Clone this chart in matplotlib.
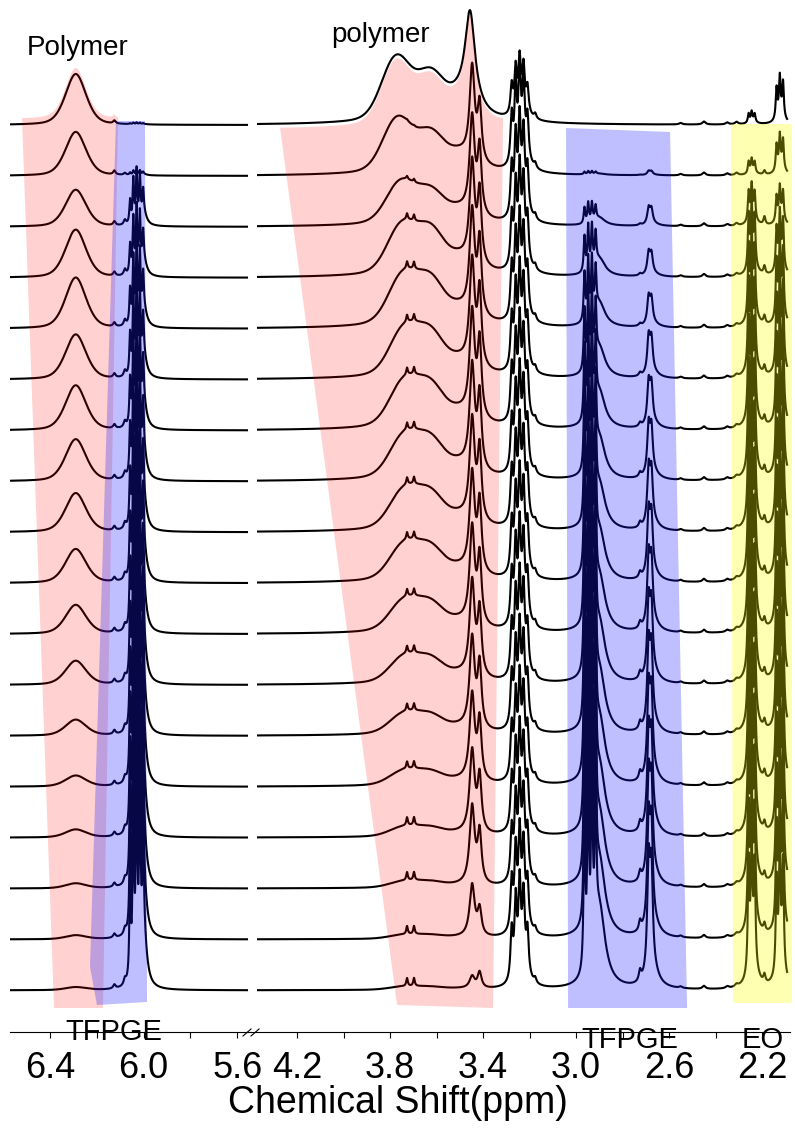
import matplotlib.pyplot as plt
from matplotlib.lines import Line2D
from matplotlib.patches import Polygon
import numpy as np

plt.rcParams["font.family"] = ["Liberation Sans", "DejaVu Sans"]

FIG_W, FIG_H = 795, 1128
AXIS_ROW = 1032      # pixel row of the x axis line
BASE_TOP = 125       # pixel row of the uppermost baseline
BASE_STEP = 50.9     # pixel gap between stacked spectra
N_TRACES = 18

# ---- peak heights in px above each baseline, top spectrum first ----
# left panel
polymer_629 = [51, 44, 37, 48, 51, 45, 45, 42, 39, 34, 29, 24, 16, 11, 8, 5, 4, 3]
bump_612 = [3, 4, 4, 4, 4, 4, 4, 4, 4, 4, 4, 4, 4, 4, 4, 4, 4, 4]
bump_608 = [0, 2, 5, 6, 6, 6, 6, 6, 6, 6, 6, 6, 6, 6, 6, 6, 6, 6]
tfpge_603 = [2, 6, 60, 75, 90, 105, 118, 130, 142, 155, 168, 180, 192, 205, 218, 230, 242, 255]

# right panel
hump_pos = [3.775, 3.77, 3.755, 3.75, 3.745, 3.74, 3.74, 3.74, 3.74,
            3.74, 3.74, 3.74, 3.74, 3.74, 3.74, 3.74, 3.74, 3.74]
hump_370 = [70, 60, 48, 58, 60, 58, 56, 52, 48, 44, 38, 32, 25, 18, 12, 8, 5, 4]
hump_shoulder = [0.5, 0.5, 0.55, 0.65, 0.65, 0.65, 0.65, 0.65, 0.65,
                 0.65, 0.65, 0.65, 0.65, 0.65, 0.65, 0.65, 0.65, 0.65]
doublet_371 = [0, 1, 3, 6, 7, 7, 7, 7, 7, 7, 7, 7, 7, 7, 8, 8, 8, 8]
peak_344 = [94, 92, 96, 100, 102, 104, 104, 102, 100, 98, 96, 94, 90, 86, 82, 78, 52, 12]
peak_341 = [0, 55, 65, 70, 72, 74, 74, 72, 70, 68, 66, 64, 62, 58, 54, 50, 26, 16]
mult_325 = [70, 115, 118, 120, 120, 120, 120, 120, 120, 120, 120, 120, 120, 120, 120, 120, 120, 120]
tfpge_294 = [0, 4, 25, 55, 75, 95, 115, 130, 145, 160, 175, 190, 200, 210, 220, 230, 240, 250]
tfpge_268 = [0, 5, 21, 28, 35, 48, 54, 63, 72, 80, 88, 96, 104, 112, 120, 128, 136, 145]
eo_224 = [14, 18, 45, 80, 105, 125, 140, 150, 160, 165, 170, 172, 175, 175, 175, 175, 170, 165]
eo_219 = [0, 4, 8, 8, 8, 8, 8, 8, 8, 8, 8, 8, 8, 8, 8, 8, 8, 8]
eo_212 = [52, 44, 43, 70, 95, 115, 130, 140, 150, 155, 160, 162, 165, 165, 165, 165, 160, 155]
wiggle_ppm = [2.55, 2.45, 2.35, 2.31]
wiggle_h = [1.5, 3, 2, 2.5]

# axis ranges and ticks
left_range = (6.571, 5.541)
left_ticks = [6.4, 6.2, 6.0, 5.8, 5.6]
left_labels = ["6.4", "", "6.0", "", "5.6"]
right_range = (4.398, 2.08)
right_ticks = [4.2, 4.0, 3.8, 3.6, 3.4, 3.2, 3.0, 2.8, 2.6, 2.4, 2.2]
right_labels = ["4.2", "", "3.8", "", "3.4", "", "3.0", "", "2.6", "", "2.2"]


def lor(x, c, w):
    return 1.0 / (1.0 + ((x - c) / w) ** 2)


def gau(x, c, s):
    return np.exp(-0.5 * ((x - c) / s) ** 2)


def multiplet(x, centers, weights, w, base_c, base_w, base_frac):
    def shape(t):
        y = base_frac * lor(t, base_c, base_w)
        for c, wt in zip(centers, weights):
            y = y + wt * lor(t, c, w)
        return y
    grid = np.linspace(min(centers) - 0.05, max(centers) + 0.05, 6000)
    return shape(x) / shape(grid).max()


def left_trace(x, i):
    y = polymer_629[i] * (0.6 * gau(x, 6.29, 0.045) + 0.4 * lor(x, 6.29, 0.05))
    y += bump_612[i] * lor(x, 6.125, 0.006)
    y += bump_608[i] * lor(x, 6.08, 0.006)
    y += tfpge_603[i] * multiplet(x, [6.058, 6.044, 6.030, 6.016, 6.002],
                                  [0.45, 0.85, 1.0, 0.85, 0.45], 0.0035, 6.0, 0.015, 0.25)
    return y


def hump(x, i):
    def shape(t):
        return (0.75 * gau(t, hump_pos[i], 0.06) + hump_shoulder[i] * gau(t, 3.625, 0.055)
                + 0.2 * lor(t, 3.72, 0.15) + 0.3 * lor(t, 3.50, 0.08))
    grid = np.linspace(3.5, 3.9, 2000)
    return hump_370[i] * shape(x) / shape(grid).max()


def right_trace(x, i):
    y = hump(x, i)
    y += doublet_371[i] * (lor(x, 3.727, 0.004) + lor(x, 3.697, 0.004))
    if i == 0:
        y += peak_344[i] * lor(x, 3.456, 0.026)
    else:
        y += peak_344[i] * lor(x, 3.447, 0.013)
    y += peak_341[i] * lor(x, 3.415, 0.01)
    y += mult_325[i] * multiplet(x, [3.277, 3.26, 3.243, 3.226, 3.209],
                                 [0.6, 0.9, 1.0, 0.8, 0.5], 0.006, 3.23, 0.025, 0.3)
    y += 5 * lor(x, 3.176, 0.006)
    y += tfpge_294[i] * multiplet(x, [2.964, 2.948, 2.932, 2.916], [0.8, 1.0, 0.95, 0.7],
                                  0.004, 2.90, 0.03, 0.4)
    y += 0.07 * tfpge_268[i] * lor(x, 2.725, 0.006)
    y += tfpge_268[i] * multiplet(x, [2.688, 2.676], [1.0, 0.9], 0.007, 2.67, 0.03, 0.15)
    y += eo_224[i] * multiplet(x, [2.258, 2.245, 2.232], [0.9, 1.0, 0.8], 0.004, 2.24, 0.02, 0.25)
    y += eo_219[i] * lor(x, 2.19, 0.005)
    y += eo_212[i] * multiplet(x, [2.138, 2.124, 2.11], [0.8, 1.0, 0.9], 0.004, 2.12, 0.02, 0.25)
    for c, h in zip(wiggle_ppm, wiggle_h):
        y += h * lor(x, c, 0.008)
    return y


def lpx(px):
    return 6.4 - (px - 50) / 234


def rpx(px):
    return 4.2 - (px - 297) / 232.5


def row(py):
    return AXIS_ROW - py


def baseline(i):
    return row(BASE_TOP + BASE_STEP * i)


fig = plt.figure(figsize=(FIG_W / 100, FIG_H / 100), dpi=100)
y0 = (FIG_H - AXIS_ROW) / FIG_H
hgt = AXIS_ROW / FIG_H
ax_l = fig.add_axes([10 / FIG_W, y0, 241 / FIG_W, hgt])
ax_r = fig.add_axes([251 / FIG_W, y0, 539 / FIG_W, hgt])

x_left = np.linspace(lpx(10), lpx(247), 8000)
x_right = np.linspace(rpx(258), rpx(787), 16000)

for i in range(N_TRACES):
    b = baseline(i)
    ax_l.plot(x_left, b + left_trace(x_left, i), color="black", lw=1.5, zorder=2)
    ax_r.plot(x_right, b + right_trace(x_right, i), color="black", lw=1.5, zorder=2)

# shaded regions drawn over the lines
pink = (1, 0, 0, 0.18)
blue = (0.1, 0.1, 1, 0.28)
yellow = (1, 1, 0, 0.3)

xs = np.linspace(lpx(22), lpx(118), 200)
top = baseline(0) + left_trace(xs, 0) + 6
verts = list(zip(xs, top)) + [(lpx(103), row(1008)), (lpx(54), row(1008))]
ax_l.add_patch(Polygon(verts, closed=True, facecolor=pink, edgecolor="none", zorder=3))

verts = [(lpx(116), row(121)), (lpx(145), row(121)), (lpx(147), row(1002)),
         (lpx(97), row(1005)), (lpx(90), row(967))]
ax_l.add_patch(Polygon(verts, closed=True, facecolor=blue, edgecolor="none", zorder=3))

xs = np.linspace(rpx(280), rpx(503), 400)
top = baseline(0) + right_trace(xs, 0) - 4
verts = list(zip(xs, top)) + [(rpx(493), row(1008)), (rpx(397), row(1005))]
ax_r.add_patch(Polygon(verts, closed=True, facecolor=pink, edgecolor="none", zorder=3))

verts = [(rpx(566), row(128)), (rpx(670), row(132)), (rpx(687), row(1008)), (rpx(568), row(1008))]
ax_r.add_patch(Polygon(verts, closed=True, facecolor=blue, edgecolor="none", zorder=3))

verts = [(rpx(731), row(124)), (rpx(792), row(124)), (rpx(792), row(1003)), (rpx(733), row(1003))]
ax_r.add_patch(Polygon(verts, closed=True, facecolor=yellow, edgecolor="none",
                       zorder=3, clip_on=False))

for ax, rng, ticks, labels in [(ax_l, left_range, left_ticks, left_labels),
                               (ax_r, right_range, right_ticks, right_labels)]:
    ax.set_xlim(*rng)
    ax.set_ylim(0, AXIS_ROW)
    ax.set_xticks(ticks)
    ax.set_xticklabels(labels)
    ax.set_yticks([])
    for side in ["top", "left", "right"]:
        ax.spines[side].set_visible(False)
    ax.spines["bottom"].set_linewidth(0.8)
    ax.tick_params(axis="x", direction="out", length=4, width=0.8, pad=10, labelsize=26)
    ax.patch.set_visible(False)

# axis break marks
for dx in (0, 8):
    fig.add_artist(Line2D([(243 + dx) / FIG_W, (251 + dx) / FIG_W],
                          [1 - 1036 / FIG_H, 1 - 1029 / FIG_H],
                          transform=fig.transFigure, color="black", lw=0.8))


def ftext(px, py, s, size):
    fig.text(px / FIG_W, 1 - py / FIG_H, s, ha="center", va="center", fontsize=size, zorder=5)


ftext(78, 48, "Polymer", 20)
ftext(381, 35, "polymer", 20)
ftext(114, 1032, "TFPGE", 21)
ftext(630, 1040, "TFPGE", 21)
ftext(763, 1040, "EO", 21)
ftext(398, 1103, "Chemical Shift(ppm)", 27)

fig.savefig("out.png", dpi=100)
